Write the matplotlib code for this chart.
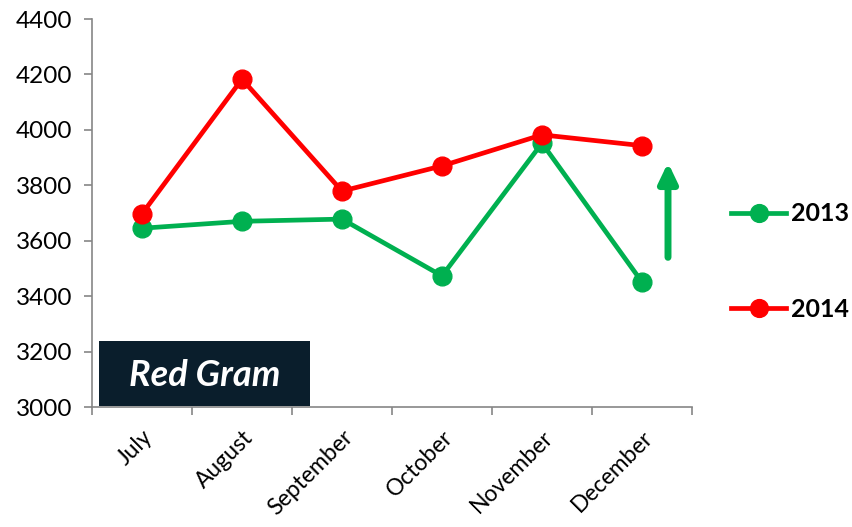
import matplotlib
matplotlib.use("Agg")
import matplotlib.pyplot as plt
from matplotlib.patches import Rectangle

months = ["July", "August", "September", "October", "November", "December"]
values_2013 = [3645, 3670, 3678, 3473, 3952, 3451]
values_2014 = [3697, 4183, 3779, 3870, 3982, 3943]
series_labels = ["2013", "2014"]
yticks = [3000, 3200, 3400, 3600, 3800, 4000, 4200, 4400]

plt.rcParams['font.family'] = ['Lato', 'DejaVu Sans']

fig = plt.figure(figsize=(8.52, 5.27), dpi=100)
ax = fig.add_axes([92/852, 1-407/527, 600/852, 388/527])

green = "#00B050"
red = "#FF0000"
x = list(range(len(months)))
ax.plot(x, values_2013, color=green, lw=3.4, marker='o', ms=13.5, label=series_labels[0], zorder=3)
ax.plot(x, values_2014, color=red, lw=3.4, marker='o', ms=13.5, label=series_labels[1], zorder=3)

ax.set_xlim(-0.5, len(months) - 0.5)
ax.set_ylim(3000, 4400)
ax.set_yticks(yticks)
ax.set_yticklabels([str(v) for v in yticks], fontsize=17.5)
ax.set_xticks(x)
ax.set_xticklabels(months, rotation=45, ha='right', rotation_mode='anchor', fontsize=16.5)
ax.tick_params(axis='x', which='major', length=0, pad=14)
ax.set_xticks([i - 0.5 for i in range(len(months) + 1)], minor=True)
ax.tick_params(axis='x', which='minor', length=6, color='#868686', width=1.2)
ax.tick_params(axis='y', length=6, color='#868686', width=1.2, pad=8)

for s in ['top', 'right']:
    ax.spines[s].set_visible(False)
for s in ['left', 'bottom']:
    ax.spines[s].set_color('#868686')
    ax.spines[s].set_linewidth(1.2)

# label box
box = Rectangle((99, 121), 211, 65, transform=None, facecolor='#0A1E2C', edgecolor='none', zorder=4)
fig.patches.append(box)
fig.text(204.5/852, 1-375/527, "Red Gram", color='white', fontsize=26, fontweight='bold',
         fontstyle='italic', ha='center', va='center', zorder=5)

# arrow
ax.annotate("", xy=(5.26, 3882), xytext=(5.26, 3540),
            arrowprops=dict(arrowstyle='-|>,head_width=0.55,head_length=1.15', color=green, lw=5,
                            shrinkA=0, shrinkB=0), zorder=4)

leg = fig.legend(handles=ax.get_lines(), labels=series_labels,
                 loc='center left', bbox_to_anchor=(731/852, 1-261.5/527), frameon=False,
                 prop={'weight': 'bold', 'size': 18}, labelspacing=2.9,
                 handlelength=2.2, handletextpad=0.2, markerscale=0.95,
                 borderpad=0, borderaxespad=0)

fig.savefig("out.png", dpi=100)
